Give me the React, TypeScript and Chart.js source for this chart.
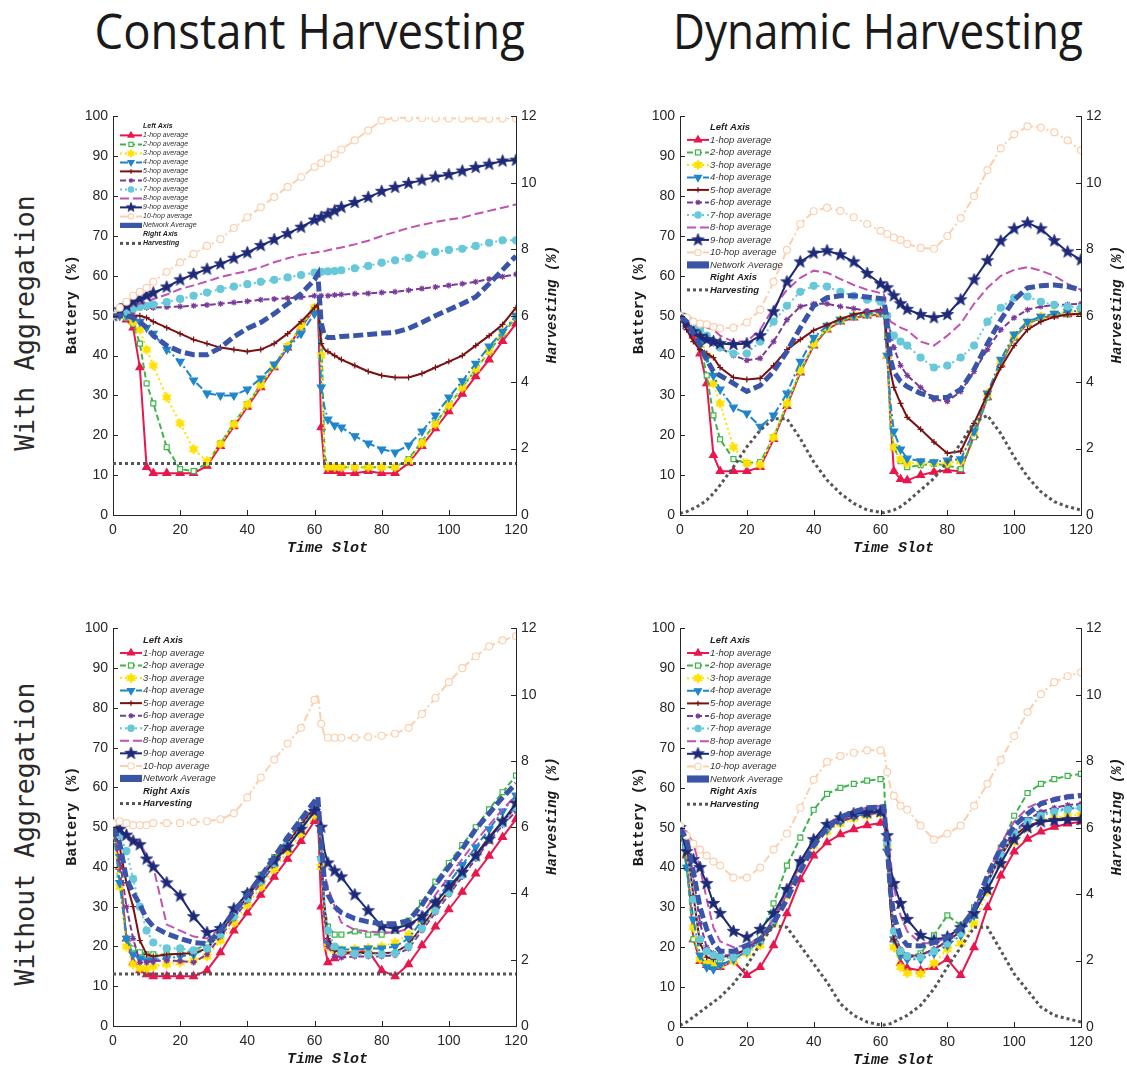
import React, { useEffect, useRef } from 'react';
import { Chart, registerables } from 'chart.js';

Chart.register(...registerables);
Chart.defaults.font.family = '"Liberation Sans", Arial, sans-serif';

// ---------- data ----------
const TIME = [0, 2, 4, 6, 8, 10, 12, 16, 20, 24, 28, 32, 36, 40, 44, 48, 52, 56, 60, 61, 62, 63, 64, 66, 68, 72, 76, 80, 84, 88, 92, 96, 100, 104, 108, 112, 116, 120];
const HARV_CONST_TIME = [0, 120];

const X_TICKS = [0, 20, 40, 60, 80, 100, 120];
const SERIES_LABELS = ['1-hop average', '2-hop average', '3-hop average', '4-hop average', '5-hop average', '6-hop average', '7-hop average', '8-hop average', '9-hop average', '10-hop average', 'Network Average'];

// Constant harvesting, with aggregation
const CA_1 = [50, 50, 49, 47, 37, 12, 10.5, 10.5, 10.5, 10.5, 12.3, 17.3, 22.2, 27.1, 32, 37, 42, 47, 51.8, 53, 22, 12, 11, 11, 10.5, 10.5, 11, 10.5, 10.5, 13, 17.3, 21.7, 26, 30.4, 34.8, 39, 43.6, 48];
const CA_2 = [50, 50, 49.5, 48, 43, 33, 28, 17, 11.5, 11, 13, 18, 23, 27.8, 32.7, 37.6, 42.4, 47.3, 52, 52.5, 47, 15, 12, 12, 12, 12, 12, 12, 12, 14, 18.5, 23, 27.5, 32, 36.5, 41, 45.5, 49.5];
const CA_3 = [50, 50, 50, 48.5, 46.5, 41.5, 37.5, 29.5, 23, 16.5, 13.5, 17.8, 22.7, 27.7, 32.6, 37.5, 42.4, 47.3, 52, 52.5, 40, 13, 12, 12, 12, 12, 12, 12, 12, 13.5, 18, 22.8, 27.5, 32, 36.7, 41.3, 46, 50];
const CA_4 = [50, 50, 50, 49.5, 48.5, 47, 45.5, 41.5, 38.5, 33.8, 30.5, 30, 30, 31.5, 34.3, 37.8, 41.8, 45.5, 50.5, 51.5, 32, 27, 24, 22.5, 22, 19.8, 18, 16.5, 15.7, 17.5, 21, 25, 29.5, 33.6, 38, 42.3, 46, 50];
const CA_5 = [50.5, 51, 50.5, 50, 50, 49.5, 48.5, 47, 45.5, 44, 43, 42, 41.5, 41, 41.5, 43, 45.5, 48.5, 52, 53, 43, 41.5, 41, 40, 39, 37.5, 36, 35, 34.5, 34.5, 35.5, 37, 38.5, 40, 42.5, 45, 47.8, 52];
const CA_6 = [50, 50, 51, 51, 52, 52, 52, 52.2, 52.3, 52.5, 52.7, 53, 53.3, 53.6, 54, 54.2, 54.4, 54.6, 55, 55, 55, 55, 55, 55.2, 55.3, 55.5, 55.6, 55.8, 56, 56.4, 56.8, 57.2, 57.6, 58, 58.5, 59.2, 59.8, 60.4];
const CA_7 = [50, 50.5, 51, 51.8, 52.2, 52.5, 52.8, 53.4, 54.2, 55, 55.8, 56.7, 57.3, 57.9, 58.5, 59, 59.6, 60.2, 60.8, 61, 61, 61, 61.1, 61.2, 61.4, 61.9, 62.5, 63.3, 63.9, 64.5, 65.3, 66, 66.5, 66.8, 67.5, 68.3, 68.9, 68.9];
const CA_8 = [50, 51, 52, 52.5, 53, 53.5, 54.2, 55.3, 56.7, 57.6, 58.6, 59.7, 60.5, 61.2, 62.2, 63.4, 64.4, 65.3, 65.8, 66, 66, 66.2, 66.4, 66.8, 67.1, 67.9, 68.8, 70, 71, 72, 72.8, 73.5, 74.1, 74.6, 75.5, 76.3, 77.1, 77.9];
const CA_9 = [50, 51.5, 52.5, 53.5, 54.2, 55, 55.7, 57.2, 59, 60.4, 61.7, 63, 64.4, 65.8, 67.6, 69.1, 70.6, 72.2, 74, 74.3, 74.7, 75.1, 75.5, 76.3, 77.2, 78.4, 79.7, 81.2, 82.2, 83.2, 84, 84.8, 85.4, 86.3, 87.2, 88, 88.8, 89];
const CA_10 = [50, 52, 53.5, 55, 56, 57, 58.5, 61, 63.4, 65.5, 67.5, 69.2, 72, 74.7, 77.2, 79.8, 82.3, 84.8, 87.3, 88, 88.3, 89, 89.5, 90.5, 91.7, 94, 96.5, 99, 99.7, 99.6, 99.6, 99.5, 99.5, 99.5, 99.5, 99.4, 99.5, 99.5];
const CA_NET = [50, 50, 50, 49.5, 48.5, 47, 45, 42.5, 41, 40.2, 40.2, 42, 44.7, 46.8, 48.3, 50.5, 53, 55.5, 59, 60.4, 48, 45, 44.5, 44.5, 44.8, 45, 45.3, 45.6, 45.8, 46.8, 48.3, 50, 51.5, 53, 54.7, 58, 61.5, 65];
const CA_HARV = [1.55, 1.55];

// Dynamic harvesting, with aggregation
const DA_1 = [50, 48, 45, 40.5, 33, 15, 11, 11, 11, 12, 19, 27.3, 35.7, 42.5, 46.5, 48.5, 49.5, 50, 50.3, 50.5, 40, 24, 11, 9, 8.7, 10, 10.8, 11.2, 11, 20, 29.5, 37.8, 44.5, 48, 49.5, 50, 50.3, 50.5];
const DA_2 = [50, 48.5, 46.5, 43, 35, 25, 19, 14, 13, 13.3, 19.5, 27.8, 36, 42.7, 46.7, 48.7, 49.7, 50.2, 50.5, 50.7, 45, 22, 17, 13.5, 12, 12.5, 12.8, 12.5, 11.5, 19.5, 29.5, 38, 44.5, 48, 49.5, 50.2, 50.4, 50.5];
const DA_3 = [50, 49, 47.5, 45, 40, 33, 28, 17, 13, 12.6, 19.5, 28, 36.3, 43, 47, 49, 50, 50.5, 50.8, 51, 40, 25, 17, 14, 12.9, 13.2, 13, 13, 13.5, 21, 30.5, 38.5, 45, 48.3, 49.8, 50.5, 51, 51];
const DA_4 = [50, 49, 47, 43.5, 39.5, 35, 31.5, 27, 25.5, 22.2, 25, 30.5, 38.5, 44.5, 47.5, 49, 50, 50.5, 51, 51.2, 40, 28, 21, 16.5, 14.2, 13.5, 13.3, 13.7, 14, 21, 30.5, 39, 45.3, 48.5, 49.8, 50.5, 51, 51.3];
const DA_5 = [50, 46.5, 43.5, 41.5, 40.5, 39.5, 37, 34.5, 34, 34.3, 37.5, 41.5, 44, 46.3, 47.7, 49.2, 50.3, 51, 51.5, 51.5, 44, 36, 32, 28, 24.5, 21.5, 18.3, 15.5, 16, 23, 30.3, 37, 42.5, 46.5, 48.5, 49.7, 50.3, 50.5];
const DA_6 = [50, 48.5, 46.5, 45, 44, 43, 42, 40, 38.8, 39.3, 43.5, 49, 52.3, 53, 53, 52.3, 51.8, 51.2, 51, 51, 49, 46, 42, 37.5, 35, 32, 29, 28.5, 31, 36, 41.5, 46.5, 49.5, 51.5, 52.3, 52.7, 52.8, 53];
const DA_7 = [50, 49, 47.5, 46.5, 45, 43.5, 42, 40.5, 40.5, 43.5, 48.5, 52.5, 56, 57.5, 57.3, 56, 55, 54, 53.5, 53.5, 50, 46, 45, 43.5, 42.5, 39.5, 37, 37.5, 39.5, 42.5, 48.5, 52, 54.5, 54.8, 53.5, 52.7, 52.3, 52];
const DA_8 = [50, 49, 48, 47.5, 47, 46.5, 45, 43.5, 43.5, 46.5, 52, 56.5, 59.5, 61.3, 60.8, 59.2, 57.7, 56.5, 55.7, 55.5, 51, 48.5, 48, 47, 46.3, 43.5, 42.5, 45, 48, 53, 57, 60, 61.5, 62.2, 61.3, 60, 58, 56.5];
const DA_9 = [50, 48, 46, 44.8, 44, 43.5, 43, 42.8, 43, 45, 51, 58.5, 63.5, 65.7, 66.3, 65.3, 63.5, 60.6, 58, 57.3, 57, 56, 55, 53, 51.6, 50.3, 49.5, 50.3, 54, 59, 63.8, 68.7, 71.8, 73.3, 71.8, 68.8, 66, 64];
const DA_10 = [50, 49.5, 48.5, 48, 47.8, 47.2, 46.8, 47, 48.3, 51.5, 58.5, 66.5, 73, 76.2, 77.1, 76.3, 74.7, 73, 71.3, 71, 70.5, 70.1, 69.6, 69, 68, 67, 66.8, 70, 74.5, 80, 86.5, 92, 95.5, 97.5, 97.2, 96, 94, 91.5];
const DA_NET = [50, 48.5, 45.5, 42.5, 39, 36, 35, 33, 31, 32.5, 36, 41, 47, 52.5, 54.5, 55, 55, 54.7, 54.3, 54.2, 48, 39, 36, 33.5, 32.2, 30.5, 29.4, 29.5, 31.5, 36.5, 43, 49, 54, 57, 57.5, 57.7, 57.3, 56.5];
const DA_HARV = [0.05, 0.1, 0.2, 0.3, 0.45, 0.65, 0.9, 1.45, 2.05, 2.55, 2.9, 2.9, 2.3, 1.6, 1.05, 0.65, 0.35, 0.15, 0.08, 0.07, 0.1, 0.12, 0.15, 0.25, 0.4, 0.75, 1.1, 1.6, 2.15, 2.8, 3.0, 2.45, 1.75, 1.15, 0.7, 0.4, 0.25, 0.15];

// Constant harvesting, without aggregation
const CN_1 = [50, 40, 22, 16, 14, 13, 12.5, 12.5, 12.5, 12.5, 14, 18.5, 24, 28.5, 33, 37.5, 42, 46.5, 51.5, 53, 30, 20, 16, 17, 18, 18.5, 19, 14, 12.5, 15.5, 20.3, 25, 29.3, 33.7, 38.3, 42.8, 47.5, 52];
const CN_2 = [50, 38, 22, 19.5, 18.5, 18, 18, 18, 18.2, 19, 20.5, 24.5, 29, 33.5, 38, 42.5, 47, 51.5, 55.5, 56.5, 45, 30, 25, 23, 23, 23.8, 23, 23, 24, 26.5, 31, 36.3, 41, 45.5, 50, 54.5, 58.8, 63];
const CN_3 = [50, 35, 20, 15.5, 14.5, 14.5, 15, 15.5, 16, 16.5, 17.5, 21.5, 26, 30.5, 35, 39.5, 44, 48.5, 53, 54, 40, 25, 20, 19, 19.2, 19.4, 19.6, 20, 21, 23, 26.5, 30.5, 34.5, 38.5, 42.5, 47, 51.5, 56];
const CN_4 = [50, 36, 22, 18, 17, 16.5, 16.5, 17, 17.5, 18, 19.5, 23.5, 28, 32.5, 37, 41.5, 46, 50.5, 55, 56, 42, 26, 21, 19.5, 19.3, 19.2, 19.5, 19.5, 20, 22, 26.5, 31.3, 36, 40.5, 45, 49.5, 54, 58];
const CN_5 = [50, 45, 36, 30, 21.5, 18, 17.5, 18, 18.2, 18.3, 19.5, 23.5, 28, 32.5, 37, 41.5, 46, 50.5, 55, 56, 40, 30, 22, 19, 18.5, 18.5, 18.3, 18.3, 18.5, 20.5, 25, 29.5, 34, 38.5, 43, 47.5, 51.5, 55];
const CN_6 = [50, 42, 30, 22, 16, 16, 16.3, 16.5, 16.3, 16, 18, 22.5, 27, 31.5, 36, 40.5, 45, 49.5, 54, 55, 45, 28, 20, 17.5, 17.2, 17.5, 17.5, 17.5, 17.8, 19.5, 24, 28.5, 33, 37.5, 42, 46.5, 50.5, 54];
const CN_7 = [50, 48, 44, 37, 30, 24, 21, 19.5, 19.5, 19, 19.5, 23, 27.5, 32, 36.5, 41, 45.5, 50, 54.5, 55.5, 42, 30, 24, 20, 18.5, 18.2, 18, 18, 18.3, 20, 24.5, 29, 33.5, 38, 42.5, 47, 51, 55];
const CN_8 = [50, 49, 48, 47, 46, 43, 40, 25.5, 24, 22.5, 22, 24.5, 29, 33.5, 38, 42.5, 47, 51.5, 55.5, 56.5, 45, 38, 35, 30, 26, 24.2, 23.8, 23.5, 23.5, 24.5, 28, 33, 37.5, 42, 46.5, 50.5, 54.5, 58];
const CN_9 = [51, 49.5, 48, 46.5, 45.6, 42, 40, 36, 32.7, 27.5, 23.5, 24.5, 29.5, 33.3, 37.2, 41.5, 45, 49.5, 54, 55.5, 50, 44, 41, 39, 37.5, 33, 29, 25, 24.5, 25.5, 27.5, 31, 35, 38.7, 42.8, 47, 51.5, 56];
const CN_10 = [51, 51.5, 51, 50.5, 50.5, 50.5, 51, 51, 51, 51.3, 51.5, 52, 53.5, 57.5, 62.5, 67, 71, 75, 82, 83.5, 76, 73, 72.5, 72.5, 72.5, 72.5, 72.7, 73, 73.5, 75, 78.5, 82.5, 86.5, 90, 93, 95.5, 97, 98];
const CN_NET = [50, 46, 37, 33.5, 30.5, 27, 25, 23.2, 22, 21, 20.7, 24, 28.5, 33, 37.5, 42.5, 47.5, 52, 56.5, 57.6, 46, 36, 33, 30, 28.5, 27, 26.2, 25.7, 25.7, 26.5, 30.5, 35.5, 40, 44.5, 49.5, 53.5, 57.5, 61];
const CN_HARV = [1.57, 1.57];

// Dynamic harvesting, without aggregation
const DN_1 = [50, 43, 22, 16.5, 15.5, 15, 15, 16.5, 13, 15, 20.5, 28.5, 37, 43, 46.3, 48.3, 49.6, 50.6, 51.2, 51.5, 45, 35, 22, 16, 14.8, 14.2, 15, 17, 13, 20, 30, 38, 44, 47.2, 49, 50.2, 51, 51.5];
const DN_2 = [50, 40, 22, 17.5, 16, 16, 16.5, 18, 19.5, 23, 31, 40.5, 47.5, 54.5, 58.5, 60, 61, 61.8, 62.2, 62.2, 45, 30, 22, 18, 17.5, 18.5, 23, 28, 25.5, 30, 36, 45, 53, 58.7, 61, 62.2, 63, 63.5];
const DN_3 = [50, 44, 25, 17, 16, 15.5, 15.5, 16.5, 18.5, 20.5, 26, 33, 40.5, 45.5, 49, 51, 52.3, 53, 53.5, 53.5, 45, 30, 20, 15, 13.5, 13.3, 16, 19.5, 21, 26, 34, 41, 46.5, 50, 51.8, 52.5, 53, 53.2];
const DN_4 = [50, 40, 27, 18, 15, 14.5, 15.5, 17, 19, 21.5, 27, 34, 41, 46, 49.5, 51.5, 52.8, 53.5, 54, 54, 44, 30, 22, 18, 17, 17, 18.5, 20.5, 23, 28, 36, 43, 48.5, 52, 53.5, 54.2, 54.8, 55];
const DN_5 = [50, 46, 33, 21, 17.5, 17, 17.5, 18, 19.5, 22, 27, 34, 41, 46.5, 50, 52, 53.5, 54.3, 54.8, 55, 46, 30, 22, 18.5, 17.5, 18, 19.5, 21.5, 24, 29, 36.5, 43, 48, 50.5, 51.5, 52, 52.3, 52.5];
const DN_6 = [50, 47, 38, 26, 20, 18.5, 18, 18, 19.5, 22, 26.5, 33.5, 40.5, 46, 49.5, 51.5, 52.7, 53.3, 53.8, 54, 46, 32, 24, 19.5, 18, 18, 19.5, 21.5, 24, 29, 37, 44, 49, 52, 54, 55, 55.7, 56];
const DN_7 = [50, 45, 32, 22, 19, 18, 17.5, 17.5, 19, 21.5, 26.5, 33.5, 40.5, 46, 50, 52.3, 53.5, 54.3, 54.8, 55, 46, 32, 24, 19, 17.8, 17.5, 19, 21, 23.5, 28.5, 36.5, 43, 48.5, 51.5, 53, 54, 54.5, 55];
const DN_8 = [50, 49, 46, 40, 32, 25, 21.5, 20, 20.5, 22.5, 27, 33.5, 41, 47, 51, 53, 54.3, 55, 55.5, 55.5, 50, 42, 35, 28, 24, 21, 21, 22.5, 25, 30, 38, 46, 51.5, 55, 56.5, 57.5, 58.2, 58.5];
const DN_9 = [50, 44, 42, 40, 36, 31, 28.5, 24, 22.5, 24.5, 28.5, 34.5, 41.5, 47, 50.8, 52.5, 53.5, 53.8, 54, 54, 48, 40, 36, 31, 27, 23, 21.8, 22.6, 24.9, 28.5, 34.5, 41, 47, 50, 51.5, 51.8, 52, 52];
const DN_10 = [50.5, 48, 46, 44.5, 43, 41.5, 40.5, 37.5, 37.5, 40, 44.5, 48.5, 55, 62, 66.5, 68, 68.8, 69.4, 69.4, 69.4, 64, 60, 58, 55.5, 54.5, 50.5, 47, 48.5, 50.5, 55.5, 61, 67, 73, 79, 83.5, 86.5, 88, 89];
const DN_NET = [50, 47, 39, 30, 24.5, 21, 19, 19, 20.5, 22, 26, 32, 39, 45.5, 50, 52.6, 54, 55, 55.2, 55.3, 45, 34, 28, 22.5, 20.5, 20.3, 21.2, 22.5, 24.8, 29.5, 38, 45, 50.5, 53.5, 56, 57, 57.7, 58];
const DN_HARV = [0.05, 0.15, 0.3, 0.45, 0.6, 0.75, 0.9, 1.3, 1.85, 2.5, 3.05, 3.0, 2.45, 1.9, 1.35, 0.7, 0.35, 0.15, 0.06, 0.06, 0.08, 0.1, 0.15, 0.25, 0.35, 0.65, 1.15, 1.8, 2.4, 3.0, 3.0, 2.3, 1.6, 1.1, 0.6, 0.35, 0.25, 0.15];

// ---------- styles ----------
type St = { color: string; dash: number[]; width: number; marker: string; r: number; fill: string };
const STYLE: St[] = [
  { color: '#E8174D', dash: [], width: 2, marker: 'triangle', r: 4.5, fill: '#E8174D' },
  { color: '#3DB54A', dash: [6, 3], width: 2, marker: 'rect', r: 3.5, fill: '#FFFFFF' },
  { color: '#FFE100', dash: [2, 3], width: 2, marker: 'hex', r: 5, fill: '#FFE100' },
  { color: '#1F86CC', dash: [8, 3, 2, 3], width: 2, marker: 'triDown', r: 4.5, fill: '#1F86CC' },
  { color: '#7A1113', dash: [], width: 2, marker: 'cross', r: 3, fill: '#7A1113' },
  { color: '#7B3A96', dash: [6, 3], width: 2, marker: 'star', r: 3, fill: '#7B3A96' },
  { color: '#66C8D8', dash: [2, 3], width: 2, marker: 'circle', r: 3.5, fill: '#66C8D8' },
  { color: '#C152B0', dash: [9, 4], width: 2, marker: 'none', r: 0, fill: '#C152B0' },
  { color: '#1E2A78', dash: [], width: 2, marker: 'pent', r: 6.5, fill: '#1E2A78' },
  { color: '#FCD0AE', dash: [8, 3, 2, 3], width: 2, marker: 'circle', r: 3.5, fill: '#FFFFFF' },
  { color: '#3A55A8', dash: [10, 4], width: 5, marker: 'none', r: 0, fill: '#3A55A8' },
];
const HARV_STYLE = { color: '#555555', dash: [3, 3], width: 3 };

function makeStar(n: number, R: number, rIn: number, color: string) {
  const c = document.createElement('canvas');
  const s = Math.ceil(2 * R + 2);
  c.width = s; c.height = s;
  const g = c.getContext('2d')!;
  g.beginPath();
  for (let i = 0; i < 2 * n; i++) {
    const ang = -Math.PI / 2 + (i * Math.PI) / n;
    const rr = i % 2 === 0 ? R : rIn;
    const x = s / 2 + rr * Math.cos(ang), y = s / 2 + rr * Math.sin(ang);
    if (i === 0) g.moveTo(x, y); else g.lineTo(x, y);
  }
  g.closePath();
  g.fillStyle = color; g.fill();
  g.strokeStyle = color; g.lineWidth = 0.8; g.stroke();
  return c;
}

let MARKERS: Record<string, HTMLCanvasElement> | null = null;
function markers() {
  if (!MARKERS) {
    MARKERS = {
      pent: makeStar(5, 6.5, 2.7, STYLE[8].color),
      hex: makeStar(6, 5, 2.9, STYLE[2].color),
      pentS: makeStar(5, 5, 2.1, STYLE[8].color),
      hexS: makeStar(6, 4, 2.3, STYLE[2].color),
    };
  }
  return MARKERS;
}

function drawMarker(ctx: CanvasRenderingContext2D, st: St, x: number, y: number, scale: number) {
  const r = st.r * scale;
  const m = markers();
  ctx.save();
  ctx.setLineDash([]);
  ctx.strokeStyle = st.color; ctx.fillStyle = st.fill; ctx.lineWidth = 1.2;
  switch (st.marker) {
    case 'triangle':
    case 'triDown': {
      const d = st.marker === 'triangle' ? -1 : 1;
      ctx.beginPath();
      ctx.moveTo(x, y + d * r);
      ctx.lineTo(x - r * 0.87, y - d * r * 0.5);
      ctx.lineTo(x + r * 0.87, y - d * r * 0.5);
      ctx.closePath(); ctx.fill(); ctx.stroke();
      break;
    }
    case 'rect': {
      const h = r * 0.8;
      ctx.fillRect(x - h, y - h, 2 * h, 2 * h); ctx.strokeRect(x - h, y - h, 2 * h, 2 * h);
      break;
    }
    case 'circle':
      ctx.beginPath(); ctx.arc(x, y, r, 0, Math.PI * 2); ctx.fill(); ctx.stroke();
      break;
    case 'cross':
      ctx.beginPath(); ctx.moveTo(x - r, y); ctx.lineTo(x + r, y); ctx.moveTo(x, y - r); ctx.lineTo(x, y + r); ctx.stroke();
      break;
    case 'star':
      ctx.beginPath(); ctx.moveTo(x - r, y); ctx.lineTo(x + r, y); ctx.moveTo(x, y - r); ctx.lineTo(x, y + r);
      ctx.moveTo(x - r * 0.7, y - r * 0.7); ctx.lineTo(x + r * 0.7, y + r * 0.7);
      ctx.moveTo(x - r * 0.7, y + r * 0.7); ctx.lineTo(x + r * 0.7, y - r * 0.7); ctx.stroke();
      break;
    case 'pent':
    case 'hex': {
      const img = scale < 0.85 ? m[st.marker + 'S'] : m[st.marker];
      ctx.drawImage(img, x - img.width / 2, y - img.height / 2);
      break;
    }
    default:
      break;
  }
  ctx.restore();
}

type LegendCfg = { fs: number; gap: number; y0: number; ms: number };

function drawLegend(ctx: CanvasRenderingContext2D, a: any, lg: LegendCfg) {
  const x0 = a.left + 7, x1 = a.left + 29, tx = a.left + 30;
  const hdr = `bold italic ${lg.fs}px "Liberation Sans", Arial, sans-serif`;
  const txt = `italic ${lg.fs}px "Liberation Sans", Arial, sans-serif`;
  ctx.save();
  ctx.textAlign = 'left'; ctx.textBaseline = 'middle';
  let y = a.top + lg.y0;
  ctx.fillStyle = '#1e1e1e'; ctx.font = hdr; ctx.fillText('Left Axis', tx, y);
  STYLE.forEach((st, i) => {
    y += lg.gap;
    ctx.save();
    ctx.strokeStyle = st.color;
    if (i === 10) { ctx.lineWidth = lg.fs * 0.75; ctx.setLineDash([]); }
    else { ctx.lineWidth = st.width; ctx.setLineDash(st.dash); }
    ctx.beginPath(); ctx.moveTo(x0, y); ctx.lineTo(x1, y); ctx.stroke();
    ctx.restore();
    drawMarker(ctx, st, (x0 + x1) / 2, y, lg.ms);
    ctx.fillStyle = '#333333'; ctx.font = txt; ctx.fillText(SERIES_LABELS[i], tx, y);
  });
  y += lg.gap;
  ctx.fillStyle = '#1e1e1e'; ctx.font = hdr; ctx.fillText('Right Axis', tx, y);
  y += lg.gap;
  ctx.save();
  ctx.strokeStyle = HARV_STYLE.color; ctx.lineWidth = HARV_STYLE.width; ctx.setLineDash(HARV_STYLE.dash);
  ctx.beginPath(); ctx.moveTo(x0, y); ctx.lineTo(x1, y); ctx.stroke();
  ctx.restore();
  ctx.fillStyle = '#1e1e1e'; ctx.font = hdr; ctx.fillText('Harvesting', tx, y);
  ctx.restore();
}

const framePlugin = {
  id: 'frame',
  afterDraw(chart: any) {
    const { ctx, chartArea: a, scales } = chart;
    const lg: LegendCfg = chart.options.plugins.frame.legend;
    ctx.save();
    ctx.strokeStyle = '#262626'; ctx.lineWidth = 1; ctx.setLineDash([]);
    ctx.beginPath();
    scales.x.ticks.forEach((t: any) => {
      const px = Math.round(scales.x.getPixelForValue(t.value)) + 0.5;
      ctx.moveTo(px, a.bottom); ctx.lineTo(px, a.bottom - 5);
    });
    scales.y.ticks.forEach((t: any) => {
      const py = Math.round(scales.y.getPixelForValue(t.value)) + 0.5;
      ctx.moveTo(a.left, py); ctx.lineTo(a.left + 5, py);
    });
    scales.y1.ticks.forEach((t: any) => {
      const py = Math.round(scales.y1.getPixelForValue(t.value)) + 0.5;
      ctx.moveTo(a.right, py); ctx.lineTo(a.right - 5, py);
    });
    ctx.stroke();

    ctx.fillStyle = '#1a1a1a';
    ctx.textAlign = 'center'; ctx.textBaseline = 'middle';
    const cy = (a.top + a.bottom) / 2 - 11;
    ctx.font = 'bold 15px "Liberation Mono", "DejaVu Sans Mono", monospace';
    ctx.save(); ctx.translate(a.left - 41, cy); ctx.rotate(-Math.PI / 2); ctx.fillText('Battery (%)', 0, 0); ctx.restore();
    ctx.font = 'bold italic 14px "Liberation Mono", "DejaVu Sans Mono", monospace';
    ctx.save(); ctx.translate(a.right + 36, cy); ctx.rotate(-Math.PI / 2); ctx.fillText('Harvesting (%)', 0, 0); ctx.restore();
    ctx.font = 'bold italic 15px "Liberation Mono", "DejaVu Sans Mono", monospace';
    ctx.fillText('Time Slot', (a.left + a.right) / 2 + 13, a.bottom + 33);
    ctx.restore();

    drawLegend(ctx, a, lg);
  },
};

type PanelCfg = {
  left: number; top: number; width: number; height: number;
  hops: number[][]; net: number[]; harvT: number[]; harv: number[]; legend: LegendCfg;
};

const PANELS: PanelCfg[] = [
  { left: 55, top: 103, width: 507, height: 457, hops: [CA_1, CA_2, CA_3, CA_4, CA_5, CA_6, CA_7, CA_8, CA_9, CA_10], net: CA_NET, harvT: HARV_CONST_TIME, harv: CA_HARV, legend: { fs: 7, gap: 9, y0: 10, ms: 0.75 } },
  { left: 622, top: 103, width: 505, height: 457, hops: [DA_1, DA_2, DA_3, DA_4, DA_5, DA_6, DA_7, DA_8, DA_9, DA_10], net: DA_NET, harvT: TIME, harv: DA_HARV, legend: { fs: 9.5, gap: 12.5, y0: 11, ms: 0.9 } },
  { left: 55, top: 615, width: 507, height: 456, hops: [CN_1, CN_2, CN_3, CN_4, CN_5, CN_6, CN_7, CN_8, CN_9, CN_10], net: CN_NET, harvT: HARV_CONST_TIME, harv: CN_HARV, legend: { fs: 9.5, gap: 12.55, y0: 12, ms: 0.9 } },
  { left: 622, top: 615, width: 505, height: 457, hops: [DN_1, DN_2, DN_3, DN_4, DN_5, DN_6, DN_7, DN_8, DN_9, DN_10], net: DN_NET, harvT: TIME, harv: DN_HARV, legend: { fs: 9.5, gap: 12.6, y0: 12, ms: 0.9 } },
];

function pointStyleOf(st: St): any {
  const m = markers();
  if (st.marker === 'pent') return m.pent;
  if (st.marker === 'hex') return m.hex;
  if (st.marker === 'triDown') return 'triangle';
  if (st.marker === 'none') return 'circle';
  return st.marker;
}

function buildConfig(cfg: PanelCfg): any {
  const series = [...cfg.hops, cfg.net];
  const datasets: any[] = series.map((vals, i) => {
    const st = STYLE[i];
    return {
      label: SERIES_LABELS[i],
      data: TIME.map((t, k) => ({ x: t, y: vals[k] })),
      yAxisID: 'y',
      borderColor: st.color,
      borderWidth: st.width,
      borderDash: st.dash,
      backgroundColor: st.fill,
      pointStyle: pointStyleOf(st),
      pointRotation: st.marker === 'triDown' ? 180 : 0,
      pointRadius: (c: any) => {
        if (st.marker === 'none') return 0;
        const x = c.raw ? c.raw.x : 0;
        return x === 61 || x === 63 ? 0 : st.r;
      },
      pointBorderColor: st.color,
      pointBackgroundColor: st.fill,
      pointBorderWidth: 1.2,
      tension: 0,
      fill: false,
      order: 12 - i,
    };
  });
  datasets.push({
    label: 'Harvesting',
    data: cfg.harvT.map((t, k) => ({ x: t, y: cfg.harv[k] })),
    yAxisID: 'y1',
    borderColor: HARV_STYLE.color,
    borderWidth: HARV_STYLE.width,
    borderDash: HARV_STYLE.dash,
    pointRadius: 0,
    tension: 0,
    fill: false,
    order: 0,
  });

  const tickFont = { size: 14, family: '"Liberation Sans", Arial, sans-serif' };
  return {
    type: 'line',
    data: { datasets },
    options: {
      animation: false,
      responsive: false,
      maintainAspectRatio: false,
      layout: { padding: { top: 10, left: 0, right: 0, bottom: 0 } },
      plugins: { legend: { display: false }, tooltip: { enabled: false }, frame: { legend: cfg.legend } },
      scales: {
        x: {
          type: 'linear', min: 0, max: 120,
          afterBuildTicks: (s: any) => { s.ticks = X_TICKS.map((v) => ({ value: v })); },
          ticks: { font: tickFont, color: '#262626', padding: 7, maxRotation: 0 },
          grid: { display: false, drawTicks: false },
          border: { display: true, color: '#262626', width: 1 },
          afterFit: (s: any) => { s.height = 45; },
        },
        y: {
          position: 'left', min: 0, max: 100,
          ticks: { stepSize: 10, font: tickFont, color: '#262626', padding: 5 },
          grid: { display: false, drawTicks: false },
          border: { display: true, color: '#262626', width: 1 },
          afterFit: (s: any) => { s.width = 58; },
        },
        y1: {
          position: 'right', min: 0, max: 12,
          ticks: { stepSize: 2, font: tickFont, color: '#262626', padding: 5 },
          grid: { display: false, drawTicks: false },
          border: { display: true, color: '#262626', width: 1 },
          afterFit: (s: any) => { s.width = 46; },
        },
      },
    },
    plugins: [framePlugin],
  };
}

function Panel({ cfg }: { cfg: PanelCfg }) {
  const ref = useRef<HTMLCanvasElement>(null);
  useEffect(() => {
    const chart = new Chart(ref.current as HTMLCanvasElement, buildConfig(cfg));
    return () => chart.destroy();
  }, [cfg]);
  return (
    <canvas
      ref={ref}
      width={cfg.width}
      height={cfg.height}
      style={{ position: 'absolute', left: cfg.left, top: cfg.top, width: cfg.width, height: cfg.height }}
    />
  );
}

function FitText({ text, cx, top, target, style }: { text: string; cx: number; top: number; target: number; style: any }) {
  const ref = useRef<HTMLDivElement>(null);
  useEffect(() => {
    const el = ref.current;
    if (!el) return;
    const w = el.scrollWidth;
    if (w > 0) el.style.transform = `scaleX(${target / w})`;
  }, [target]);
  return (
    <div style={{ position: 'absolute', left: cx - 400, top, width: 800, display: 'flex', justifyContent: 'center' }}>
      <div ref={ref} style={{ whiteSpace: 'nowrap', transformOrigin: 'center', ...style }}>{text}</div>
    </div>
  );
}

function RowLabel({ text, cx, cy }: { text: string; cx: number; cy: number }) {
  return (
    <div
      style={{
        position: 'absolute', left: cx - 250, top: cy - 18, width: 500, height: 36, lineHeight: '36px',
        textAlign: 'center', transform: 'rotate(-90deg)', transformOrigin: 'center',
        fontFamily: '"DejaVu Sans Mono", "Liberation Mono", monospace', fontSize: 26.5, color: '#2a2a2a', whiteSpace: 'nowrap',
      }}
    >
      {text}
    </div>
  );
}

export default function App() {
  const titleStyle = { fontFamily: '"Open Sans", "Noto Sans", sans-serif', fontSize: 50, lineHeight: '60px', color: '#1a1a1a', fontWeight: 400 };
  return (
    <div style={{ position: 'absolute', left: 0, top: 0, width: 1127, height: 1073, background: '#ffffff', overflow: 'hidden' }}>
      <FitText text="Constant Harvesting" cx={310} top={0} target={430} style={titleStyle} />
      <FitText text="Dynamic Harvesting" cx={878} top={0} target={410} style={titleStyle} />
      <RowLabel text="With Aggregation" cx={25} cy={323} />
      <RowLabel text="Without Aggregation" cx={25} cy={834} />
      {PANELS.map((p, i) => (
        <Panel key={i} cfg={p} />
      ))}
    </div>
  );
}
